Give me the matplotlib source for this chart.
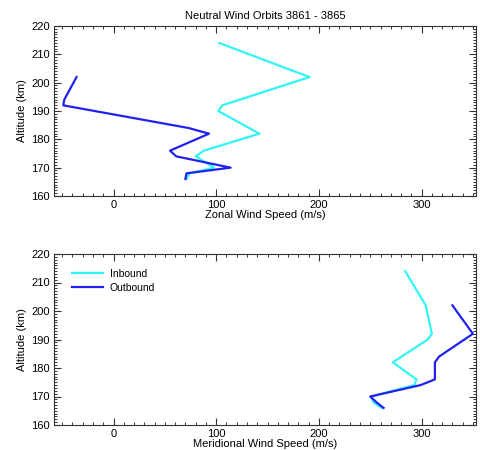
import matplotlib
matplotlib.use("Agg")
import matplotlib.pyplot as plt
from matplotlib.ticker import MultipleLocator

plt.rcParams['font.family'] = ['Liberation Sans', 'DejaVu Sans']

title = "Neutral Wind Orbits 3861 - 3865"
series_names = ["Inbound", "Outbound"]

# Zonal wind (top panel)
zonal_in_alt = [214, 204, 202, 192, 190, 182, 176, 174, 170, 168, 166]
zonal_in_spd = [103, 176, 191, 106, 102, 142, 88, 80, 98, 74, 71]
zonal_out_alt = [202, 194, 192, 184, 182, 176, 174, 170, 168, 166]
zonal_out_spd = [-36, -48, -49, 73, 93, 55, 61, 114, 71, 70]

# Meridional wind (bottom panel)
merid_in_alt = [214, 202, 192, 190, 182, 176, 174, 170, 168, 166]
merid_in_spd = [284, 304, 310, 306, 272, 295, 293, 251, 253, 261]
merid_out_alt = [202, 192, 184, 182, 176, 174, 170, 168, 166]
merid_out_spd = [330, 350, 317, 313, 313, 299, 250, 256, 263]

xlabels = ["Zonal Wind Speed (m/s)", "Meridional Wind Speed (m/s)"]
ylabel = "Altitude (km)"

c_in = "#33F5F5"
c_out = "#2222EE"

fig = plt.figure(figsize=(4.81, 4.5), dpi=100)
ax1 = fig.add_axes([54/481, 1-196/450, 422/481, 170/450])
ax2 = fig.add_axes([54/481, 1-425/450, 422/481, 171/450])

panels = [
    (ax1, zonal_in_spd, zonal_in_alt, zonal_out_spd, zonal_out_alt, xlabels[0]),
    (ax2, merid_in_spd, merid_in_alt, merid_out_spd, merid_out_alt, xlabels[1]),
]
for ax, xi, yi, xo, yo, xl in panels:
    ax.plot(xi, yi, color=c_in, lw=1.6, label=series_names[0])
    ax.plot(xo, yo, color=c_out, lw=1.6, label=series_names[1])
    ax.set_xlim(-58, 353)
    ax.set_ylim(160, 220)
    ax.xaxis.set_major_locator(MultipleLocator(100))
    ax.xaxis.set_minor_locator(MultipleLocator(10))
    ax.yaxis.set_major_locator(MultipleLocator(10))
    ax.yaxis.set_minor_locator(MultipleLocator(1))
    ax.tick_params(which='both', direction='in', top=True, right=True,
                   labelsize=8, color='#333333', pad=3)
    ax.tick_params(which='major', length=5, width=0.8)
    ax.tick_params(which='minor', length=2.5, width=0.7)
    for s in ax.spines.values():
        s.set_linewidth(0.8)
        s.set_color('#333333')
    ax.set_xlabel(xl, fontsize=8, labelpad=0)
    ax.set_ylabel(ylabel, fontsize=8, labelpad=3)

ax1.set_title(title, fontsize=8, pad=5)
ax2.legend(loc='upper left', bbox_to_anchor=(0.033, 0.936), frameon=False,
           fontsize=7.5, handlelength=3.0, borderaxespad=0.0,
           labelspacing=0.35, handletextpad=0.6)

fig.savefig("out.png", dpi=100)
